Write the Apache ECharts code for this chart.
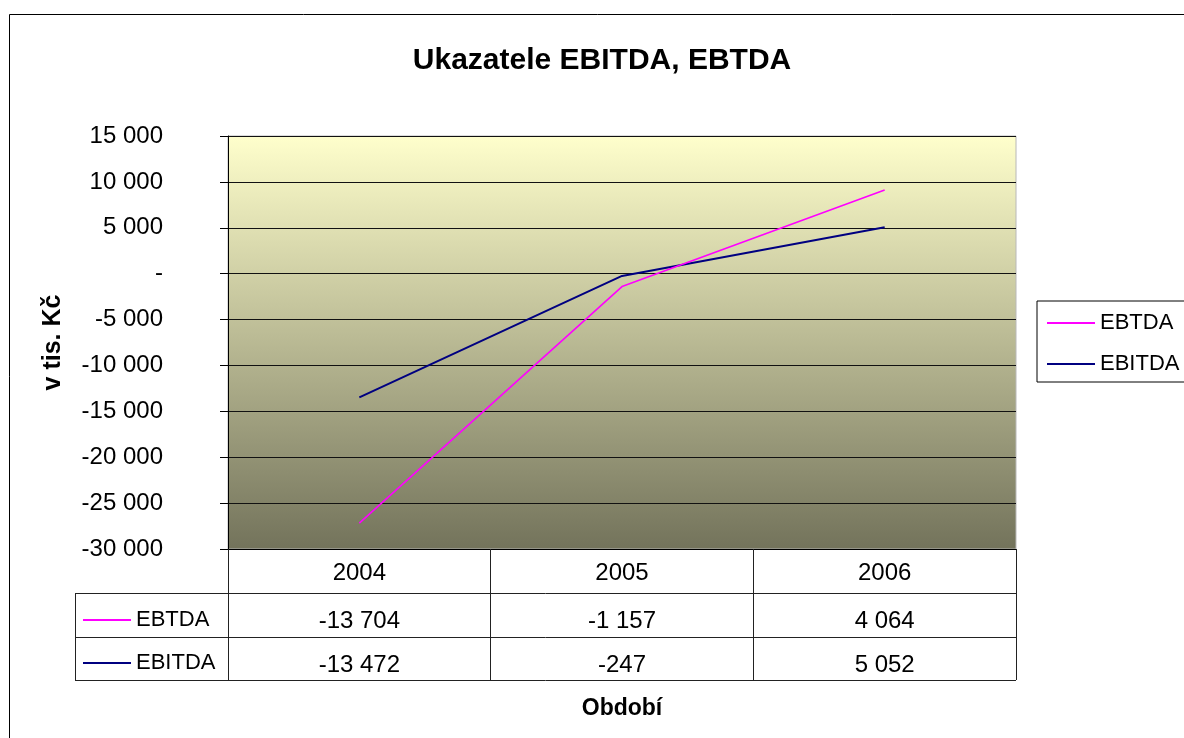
<!DOCTYPE html>
<html>
<head>
<meta charset="utf-8">
<title>Ukazatele EBITDA, EBTDA</title>
<script src="https://cdn.jsdelivr.net/npm/echarts@6/dist/echarts.min.js"></script>
<style>
  html, body { margin: 0; padding: 0; background: #fff; }
  #chart { width: 1184px; height: 738px; }
</style>
</head>
<body>
<div id="chart"></div>
<script>
// data
const years = ['2004', '2005', '2006'];
const ebtda = [-13704, -1157, 4064];
const ebitda = [-13472, -247, 5052];
const yMin = -30000;
const yMax = 15000;
const yStep = 5000;

const FONT = '"Liberation Sans", Arial, sans-serif';

// cislo s mezerou po tisicich, nula jako pomlcka
function fmt(v) {
    if (v === 0) return '-';
    const s = Math.abs(v).toString().replace(/\B(?=(\d{3})+(?!\d))/g, ' ');
    return (v < 0 ? '-' : '') + s;
}

const txt = { fontFamily: FONT, fontSize: 24, color: '#000' };
const legendTxt = { fontFamily: FONT, fontSize: 22, color: '#000' };

// radky tabulky pod grafem (osa x s posunem)
function tableAxis(values, offset) {
    return {
        type: 'category',
        data: years,
        position: 'bottom',
        offset: offset,
        axisLine: { show: false, onZero: false },
        axisTick: { show: false },
        axisLabel: Object.assign({}, txt, {
            margin: 16,
            formatter: (v, i) => fmt(values[i])
        })
    };
}

const option = {
    animation: false,
    backgroundColor: '#fff',
    legend: [
        {
            data: ['EBTDA', 'EBITDA'],
            orient: 'vertical',
            left: 1037,
            top: 301,
            icon: 'rect',
            itemWidth: 48,
            itemHeight: 2,
            itemGap: 19,
            padding: [11, 10, 7, 10],
            borderColor: '#000',
            borderWidth: 1,
            textStyle: legendTxt
        },
        {
            data: ['EBTDA', 'EBITDA'],
            orient: 'vertical',
            left: 83,
            top: 609,
            icon: 'rect',
            itemWidth: 48,
            itemHeight: 2,
            itemGap: 21,
            padding: 0,
            textStyle: legendTxt
        }
    ],
    grid: {
        left: 228,
        right: 168,
        top: 136,
        bottom: 189,
        show: true,
        borderColor: '#b8b8b8',
        borderWidth: 1,
        backgroundColor: new echarts.graphic.LinearGradient(0, 0, 0, 1, [
            { offset: 0, color: '#ffffcc' },
            { offset: 1, color: '#73735b' }
        ])
    },
    xAxis: [
        {
            type: 'category',
            data: years,
            boundaryGap: true,
            name: 'Období',
            nameLocation: 'middle',
            nameGap: 148,
            nameTextStyle: { fontFamily: FONT, fontSize: 23, fontWeight: 'bold', color: '#000' },
            axisLine: { show: true, onZero: false, lineStyle: { color: '#000', width: 1 } },
            axisTick: { show: true, interval: 0, length: 131, lineStyle: { color: '#222', width: 1 } },
            axisLabel: Object.assign({}, txt, { margin: 12 })
        },
        tableAxis(ebtda, 44),
        tableAxis(ebitda, 88)
    ],
    yAxis: {
        type: 'value',
        min: yMin,
        max: yMax,
        interval: yStep,
        name: 'v tis. Kč',
        nameLocation: 'middle',
        nameGap: 162,
        nameTextStyle: { fontFamily: FONT, fontSize: 25, fontWeight: 'bold', color: '#000' },
        axisLine: { show: true, lineStyle: { color: '#000' } },
        axisTick: { show: true, length: 8, lineStyle: { color: '#000' } },
        axisLabel: Object.assign({}, txt, { margin: 65, formatter: v => fmt(v) }),
        splitLine: { lineStyle: { color: '#111', width: 1 } }
    },
    series: [
        {
            name: 'EBITDA',
            type: 'line',
            stack: 'celkem',
            data: ebitda,
            symbol: 'none',
            color: '#000080',
            lineStyle: { color: '#000080', width: 2 }
        },
        {
            name: 'EBTDA',
            type: 'line',
            stack: 'celkem',
            data: ebtda,
            symbol: 'none',
            color: '#ff00ff',
            lineStyle: { color: '#ff00ff', width: 1.6 }
        }
    ],
    graphic: [
        // ramecek celeho grafu
        { type: 'rect', shape: { x: 9.5, y: 14.5, width: 1300, height: 900 },
          style: { fill: 'none', stroke: '#000', lineWidth: 1 }, silent: true },
        // nadpis
        { type: 'text', x: 602, y: 61, silent: true,
          style: { text: 'Ukazatele EBITDA, EBTDA', align: 'center', verticalAlign: 'middle',
                   font: 'bold 30px ' + FONT, fill: '#000' } },
        // linky tabulky
        { type: 'line', shape: { x1: 75, y1: 593.5, x2: 1016, y2: 593.5 }, style: { stroke: '#222' } },
        { type: 'line', shape: { x1: 75, y1: 637.5, x2: 1016, y2: 637.5 }, style: { stroke: '#222' } },
        { type: 'line', shape: { x1: 75, y1: 680.5, x2: 1016, y2: 680.5 }, style: { stroke: '#222' } },
        { type: 'line', shape: { x1: 75.5, y1: 593, x2: 75.5, y2: 681 }, style: { stroke: '#222' } }
    ]
};

const myChart = echarts.init(document.getElementById('chart'));
myChart.setOption(option);
</script>
</body>
</html>
